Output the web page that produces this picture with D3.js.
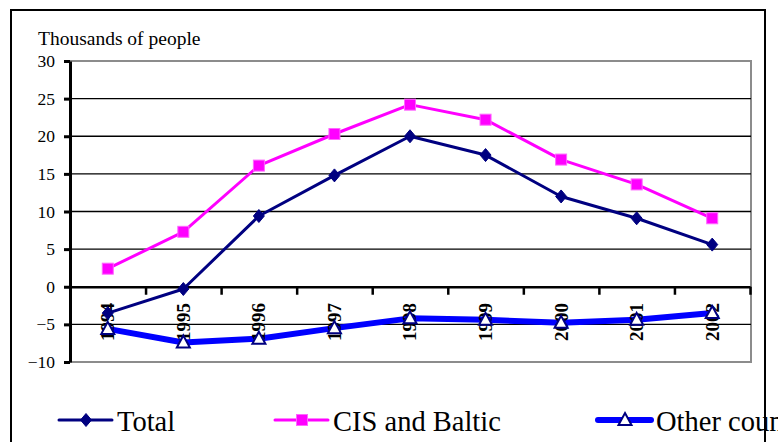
<!DOCTYPE html>
<html>
<head>
<meta charset="utf-8">
<script src="https://cdn.jsdelivr.net/npm/d3@7"></script>
<style>
  html, body { margin: 0; padding: 0; background: #fff; }
  svg { display: block; }
</style>
</head>
<body>
<div id="chart"></div>
<script>
// Chart data
const years = ["1994", "1995", "1996", "1997", "1998", "1999", "2000", "2001", "2002"];
const totalValues = [-3.5, -0.3, 9.4, 14.8, 20.0, 17.5, 12.0, 9.1, 5.6];
const cisValues = [2.4, 7.3, 16.1, 20.3, 24.2, 22.2, 16.9, 13.6, 9.1];
const otherValues = [-5.6, -7.4, -6.9, -5.5, -4.2, -4.4, -4.8, -4.4, -3.5];
const yTicks = [-10, -5, 0, 5, 10, 15, 20, 25, 30];
const unitLabel = "Thousands of people";

const series = [
  { name: "Total", values: totalValues, color: "#000080", width: 3, marker: "diamond" },
  { name: "CIS and Baltic", values: cisValues, color: "#ff00ff", width: 3, marker: "square" },
  { name: "Other countries", values: otherValues, color: "#0000ff", width: 6, marker: "triangle" }
];

const W = 778, H = 442;
const plot = { left: 70, right: 751, top: 61, bottom: 362 };
const SERIF = "'Liberation Serif'";

const svg = d3.select("#chart").append("svg")
  .attr("width", W).attr("height", H);

const x = d3.scaleBand().domain(years).range([plot.left, plot.right - 1]);
const xEdge = d3.scaleLinear().domain([0, years.length]).range([plot.left, plot.right - 1]);
const y = d3.scaleLinear().domain([-10, 30]).range([plot.bottom, plot.top]);

// plot area frame (grey)
svg.append("rect")
  .attr("x", plot.left).attr("y", plot.top)
  .attr("width", plot.right - plot.left).attr("height", plot.bottom - plot.top)
  .attr("fill", "none").attr("stroke", "#8c8c8c").attr("stroke-width", 2);

// gridlines
svg.append("g").selectAll("line")
  .data(yTicks.filter(v => v !== 0 && v !== 30 && v !== -10))
  .join("line")
  .attr("x1", plot.left).attr("x2", plot.right)
  .attr("y1", d => y(d)).attr("y2", d => y(d))
  .attr("stroke", "#000").attr("stroke-width", 1.4);

// unit label
svg.append("text")
  .attr("x", 38).attr("y", 45)
  .style("font-family", SERIF)
  .style("font-size", "19.5px")
  .text(unitLabel);

// y axis
const yAxis = svg.append("g")
  .attr("transform", `translate(${plot.left},0)`)
  .call(d3.axisLeft(y).tickValues(yTicks).tickSize(6).tickPadding(9).tickSizeOuter(0));
yAxis.select(".domain").attr("stroke", "#000").attr("stroke-width", 3);
yAxis.selectAll(".tick line").attr("stroke", "#000").attr("stroke-width", 3);
yAxis.selectAll(".tick text")
  .style("font-family", SERIF)
  .style("font-size", "17.5px").attr("fill", "#000");

// x axis at zero with boundary ticks
const xAxis = svg.append("g")
  .attr("transform", `translate(0,${y(0)})`)
  .call(d3.axisBottom(xEdge).tickValues(d3.range(1, years.length + 1))
    .tickFormat("").tickSize(8).tickSizeOuter(0));
xAxis.select(".domain").attr("stroke", "#000").attr("stroke-width", 2.5);
xAxis.selectAll(".tick line").attr("stroke", "#000").attr("stroke-width", 2.5);

// series lines
const line = d3.line()
  .x((d, i) => x(years[i]) + x.bandwidth() / 2)
  .y(d => y(d));

function drawMarker(g, type, color) {
  if (type === "diamond") {
    g.append("path").attr("d", "M0,-6.5L5.5,0L0,6.5L-5.5,0Z")
      .attr("fill", color).attr("stroke", color).attr("stroke-width", 1);
  } else if (type === "square") {
    g.append("rect").attr("x", -5.5).attr("y", -5.5).attr("width", 11).attr("height", 11)
      .attr("fill", color).attr("stroke", "#ff66ff").attr("stroke-width", 1);
  } else {
    g.append("path").attr("d", "M0,-7L6.5,5L-6.5,5Z")
      .attr("fill", "#fff").attr("stroke", "#000080").attr("stroke-width", 2);
  }
}

series.forEach(s => {
  svg.append("path")
    .datum(s.values)
    .attr("fill", "none")
    .attr("stroke", s.color)
    .attr("stroke-width", s.width)
    .attr("stroke-linejoin", "round")
    .attr("d", line);
});

// x labels (rotated)
svg.append("g").selectAll("text")
  .data(years)
  .join("text")
  .attr("transform", d => `translate(${x(d) + x.bandwidth() / 2},${322}) rotate(-90)`)
  .attr("text-anchor", "middle")
  .attr("dy", "0.34em")
  .style("font-family", SERIF)
  .style("font-size", "19px")
  .style("font-weight", "bold")
  .text(d => d);

series.forEach(s => {
  svg.append("g").selectAll("g")
    .data(s.values)
    .join("g")
    .attr("transform", (d, i) => `translate(${x(years[i]) + x.bandwidth() / 2},${y(d)})`)
    .each(function () { drawMarker(d3.select(this), s.marker, s.color); });
});

// legend
const legendX = [59, 275, 598];
const legendY = 420;
series.forEach((s, i) => {
  const g = svg.append("g").attr("transform", `translate(${legendX[i]},${legendY})`);
  g.append("line").attr("x1", 0).attr("x2", 53).attr("y1", 0).attr("y2", 0)
    .attr("stroke", s.color).attr("stroke-width", s.width).attr("stroke-linecap", "round");
  const m = g.append("g").attr("transform", "translate(27,0)");
  drawMarker(m, s.marker, s.color);
  g.append("text").attr("x", 58).attr("y", 11)
    .style("font-family", SERIF)
    .style("font-size", "28.5px")
    .text(s.name);
});

// outer frame
svg.append("rect")
  .attr("x", 11).attr("y", 10)
  .attr("width", 754).attr("height", 460)
  .attr("fill", "none").attr("stroke", "#000").attr("stroke-width", 2);
</script>
</body>
</html>
